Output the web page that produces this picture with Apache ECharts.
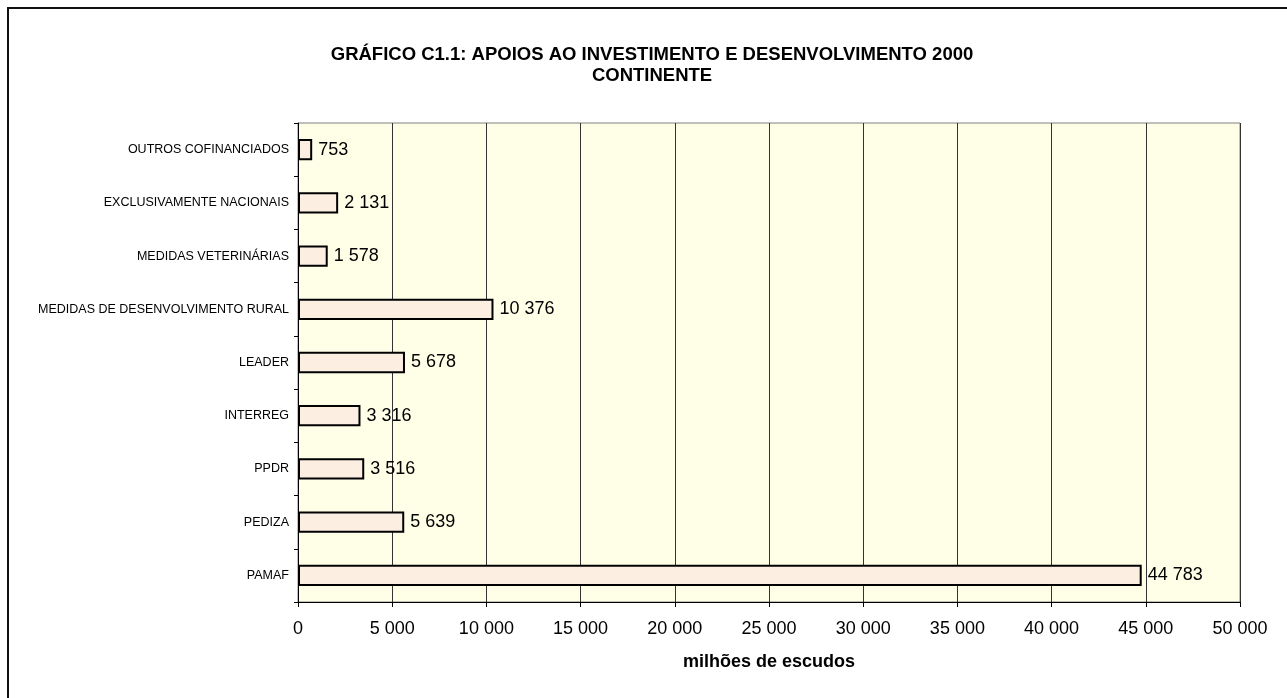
<!DOCTYPE html>
<html>
<head>
<meta charset="utf-8">
<script src="https://cdn.jsdelivr.net/npm/echarts@6/dist/echarts.min.js"></script>
<style>
html,body{margin:0;padding:0;background:#fff;}
#chart{width:1287px;height:698px;}
</style>
</head>
<body>
<div id="chart"></div>
<script>
const categories = ["PAMAF","PEDIZA","PPDR","INTERREG","LEADER","MEDIDAS DE DESENVOLVIMENTO RURAL","MEDIDAS VETERINÁRIAS","EXCLUSIVAMENTE NACIONAIS","OUTROS COFINANCIADOS"];
const values = [44783, 5639, 3516, 3316, 5678, 10376, 1578, 2131, 753];
const titleLine1 = "GRÁFICO C1.1: APOIOS AO INVESTIMENTO E DESENVOLVIMENTO 2000";
const titleLine2 = "CONTINENTE";
const axisName = "milhões de escudos";

function fmt(v){ return String(v).replace(/\B(?=(\d{3})+(?!\d))/g, ' '); }

const chart = echarts.init(document.getElementById('chart'), null, {renderer:'canvas'});
const font = 'Liberation Sans, Arial, sans-serif';
chart.setOption({
  animation:false,
  textStyle:{fontFamily:font},
  title:[
    {text:titleLine1, left:652, top:45, textAlign:'center', padding:0, textStyle:{fontFamily:font,fontSize:18.5,fontWeight:'bold',color:'#000'}},
    {text:titleLine2, left:652, top:66, textAlign:'center', padding:0, textStyle:{fontFamily:font,fontSize:18.5,fontWeight:'bold',color:'#000'}}
  ],
  graphic:[{type:'rect', shape:{x:8,y:8,width:1400,height:800}, style:{fill:'none',stroke:'#111',lineWidth:2}, silent:true, z:100}],
  grid:{left:298,right:47,top:123,bottom:96,show:true,backgroundColor:'#FFFFE8',borderColor:'#808080',borderWidth:1},
  xAxis:{
    type:'value', min:0, max:50000, interval:5000,
    name:axisName, nameLocation:'middle', nameGap:51,
    nameTextStyle:{fontFamily:font,fontSize:18,fontWeight:'bold',color:'#000'},
    axisLine:{show:true,lineStyle:{color:'#000',width:1}},
    axisTick:{show:true,length:5,lineStyle:{color:'#000'}},
    axisLabel:{formatter:fmt,fontFamily:font,fontSize:18,color:'#000',margin:18},
    splitLine:{show:true,lineStyle:{color:'#333',width:1}}
  },
  yAxis:{
    type:'category', data:categories,
    axisLine:{show:true,lineStyle:{color:'#000',width:1}},
    axisTick:{show:true,length:4,lineStyle:{color:'#000'}},
    axisLabel:{fontFamily:font,fontSize:12.5,color:'#000',margin:9},
    splitLine:{show:false}
  },
  series:[{
    type:'bar', data:values, barCategoryGap:'60%',
    itemStyle:{color:'#FDEEE2',borderColor:'#000',borderWidth:2},
    label:{show:true,position:'right',distance:6,formatter:p=>fmt(p.value),fontFamily:font,fontSize:18,color:'#000'}
  }]
});
</script>
</body>
</html>
